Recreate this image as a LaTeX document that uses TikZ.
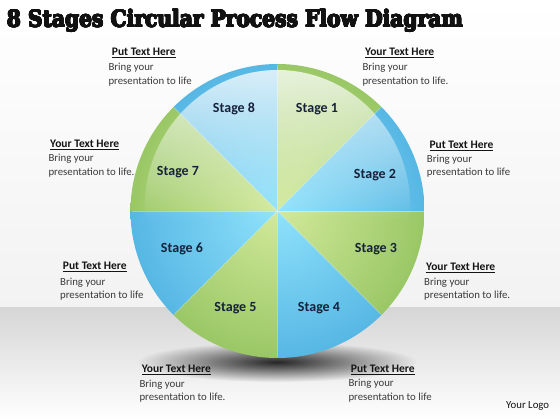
\documentclass[tikz,border=0pt]{standalone}
\usepackage{fontspec}
\usepackage{graphicx}
\usepackage[copies]{contour}
\contourlength{0.55pt}
\contournumber{16}
\usetikzlibrary{fadings}
\setmainfont{Carlito}
\newfontfamily\titlefont{DejaVu Serif}
\definecolor{gin}{HTML}{D2E99A}
\definecolor{gout}{HTML}{62A632}
\definecolor{bin}{HTML}{8FE2FB}
\definecolor{bout}{HTML}{1F8CCD}
\definecolor{headc}{HTML}{141414}
\definecolor{bodyc}{HTML}{3A3A3A}
\definecolor{stagec}{HTML}{16213A}
\definecolor{titlec}{HTML}{111111}
\tikzfading[name=softshadow, inner color=transparent!0, outer color=transparent!100]
\tikzfading[name=glossfade, top color=transparent!20, bottom color=transparent!100]
\tikzset{
  head/.style={anchor=base west, inner sep=0pt, text=headc, font=\fontsize{11.5}{13}\selectfont\bfseries},
  body/.style={anchor=base west, inner sep=0pt, text=bodyc, font=\fontsize{10.8}{13}\selectfont},
  stagelbl/.style={inner sep=0pt, text=stagec, font=\fontsize{14}{16}\selectfont\bfseries},
  sepline/.style={white, opacity=0.35, line width=0.6pt}
}
\newcommand\txtblock[8]{%
  \node[head] (#1h) at (#2,#3) {\underline{#7}};
  \node[body] (#1a) at (#4,#5) {Bring your};
  \node[body] (#1b) at (#4,#6) {presentation to life#8};
}
\begin{document}
\begin{tikzpicture}[x=1pt,y=1pt]
\useasboundingbox (0,0) rectangle (560,420);
% background
\fill[white] (0,0) rectangle (560,420);
\shade[top color=white, bottom color=black!5] (0,112) rectangle (560,420);
\shade[top color=black!16, bottom color=white] (0,0) rectangle (560,112);
% shadow
\fill[black!85, path fading=softshadow] (277,58) ellipse (140 and 20);
% circle sectors
\coordinate (C) at (277.5,209);
\foreach \a in {90,0,-90,-180} {
  \begin{scope}
    \clip (C) -- ++(\a:147) arc[start angle=\a, end angle=\a-45, radius=147] -- cycle;
    \shade[inner color=gin, outer color=gout] (C) circle (294);
  \end{scope}
}
\foreach \a in {45,-45,-135,135} {
  \begin{scope}
    \clip (C) -- ++(\a:147) arc[start angle=\a, end angle=\a-45, radius=147] -- cycle;
    \shade[inner color=bin, outer color=bout] (C) circle (294);
  \end{scope}
}
\foreach \a in {0,45,...,315} {
  \draw[sepline] (C) -- ++(\a:146);
}
% gloss
\begin{scope}
  \clip (277.5,212) ellipse (133 and 138);
  \fill[white, path fading=glossfade] (130,200) rectangle (425,356);
\end{scope}
% stage labels
\node[stagelbl] (s1) at (317,311.3) {Stage 1};
\node[stagelbl] (s2) at (375,245.3) {Stage 2};
\node[stagelbl] (s3) at (376,171) {Stage 3};
\node[stagelbl] (s4) at (319,112.3) {Stage 4};
\node[stagelbl] (s5) at (235.5,112.3) {Stage 5};
\node[stagelbl] (s6) at (182,171.3) {Stage 6};
\node[stagelbl] (s7) at (178,247.7) {Stage 7};
\node[stagelbl] (s8) at (234,311) {Stage 8};
% title
\node[anchor=base west, inner sep=0pt, text=titlec] (title) at (6.7,393)
  {\resizebox{456pt}{\height}{\titlefont\fontsize{22.8}{28}\selectfont\bfseries\contour{titlec}{8 Stages Circular Process Flow Diagram}}};
% text blocks
\txtblock{tl}{111.7}{364}{108.3}{349}{335.5}{Put Text Here}{}
\txtblock{tr}{365}{364}{362.3}{349}{335.5}{Your Text Here}{.}
\txtblock{ru}{429.3}{271.5}{426.7}{257.5}{244}{Put Text Here}{}
\txtblock{rl}{426}{149}{424}{134.5}{121}{Your Text Here}{.}
\txtblock{lu}{50}{272.5}{48.3}{258}{244.5}{Your Text Here}{.}
\txtblock{ll}{62.7}{150}{60}{134.5}{121}{Put Text Here}{}
\txtblock{bl}{141.7}{47.2}{139.3}{32.7}{19.3}{Your Text Here}{.}
\txtblock{br}{350.7}{47.5}{348.3}{33}{19.3}{Put Text Here}{}
\node[body, text=headc] (logo) at (506,11) {Your Logo};
\end{tikzpicture}
\end{document}
